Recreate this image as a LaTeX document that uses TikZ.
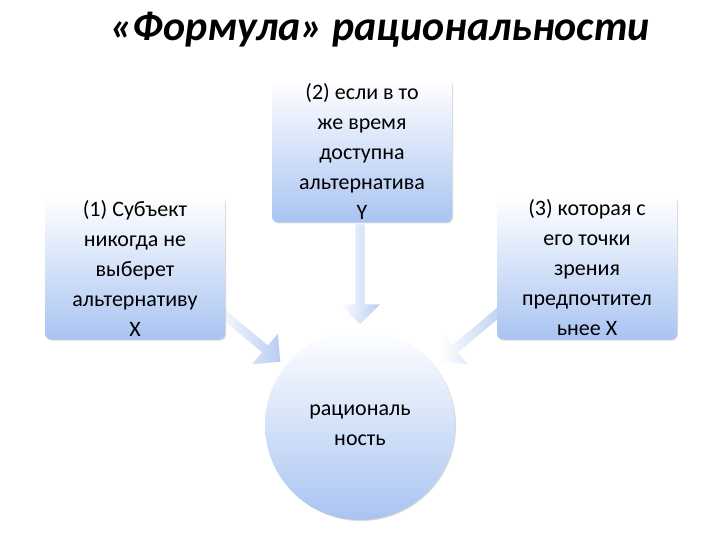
\documentclass[tikz,border=0pt]{standalone}
\usepackage{fontspec}
\setmainfont{Carlito}
\usetikzlibrary{shapes.arrows,shadows}
\definecolor{bl}{HTML}{A9C4F2}
\definecolor{ab}{HTML}{B8CDF2}
\tikzset{
 box/.style={rounded corners=6pt,top color=white,bottom color=bl,draw=none,
   minimum width=180pt,align=center,font=\fontsize{22}{30}\selectfont,
   drop shadow={shadow xshift=1pt,shadow yshift=-1pt,opacity=0.3}},
 arr/.style={single arrow,single arrow head extend=12pt,minimum width=40pt,
   left color=white,right color=ab,draw=none}
}
\begin{document}
\begin{tikzpicture}[x=1pt,y=-1pt]
\useasboundingbox (0,0) rectangle (720,540);
\node[font=\fontsize{42}{48}\selectfont\bfseries\itshape] (t) at (380,30) {«Формула» рациональности};
\node[arr,minimum height=100pt] (a2) at (360,272) [rotate=-90] {};
\node[arr,minimum height=85pt] (a1) at (246,333) [rotate=-40] {};
\node[arr,minimum height=85pt] (a3) at (474,333) [rotate=220] {};
\node[box,minimum height=143pt] (b1) at (135,268) {(1) Субъект\\никогда не\\выберет\\альтернативу\\Х};
\node[box,minimum height=142pt] (b2) at (362,151) {(2) если в то\\же время\\доступна\\альтернатива\\Y};
\node[box,minimum height=143pt] (b3) at (587,268) {(3) которая с\\его точки\\зрения\\предпочтител\\ьнее Х};
\node[circle,minimum size=190pt,top color=white,bottom color=bl,
  drop shadow={shadow xshift=1pt,shadow yshift=-1pt,opacity=0.3},
  align=center,font=\fontsize{22}{30}\selectfont] (c) at (360,425) {рациональ\\ность};
\end{tikzpicture}
\end{document}
